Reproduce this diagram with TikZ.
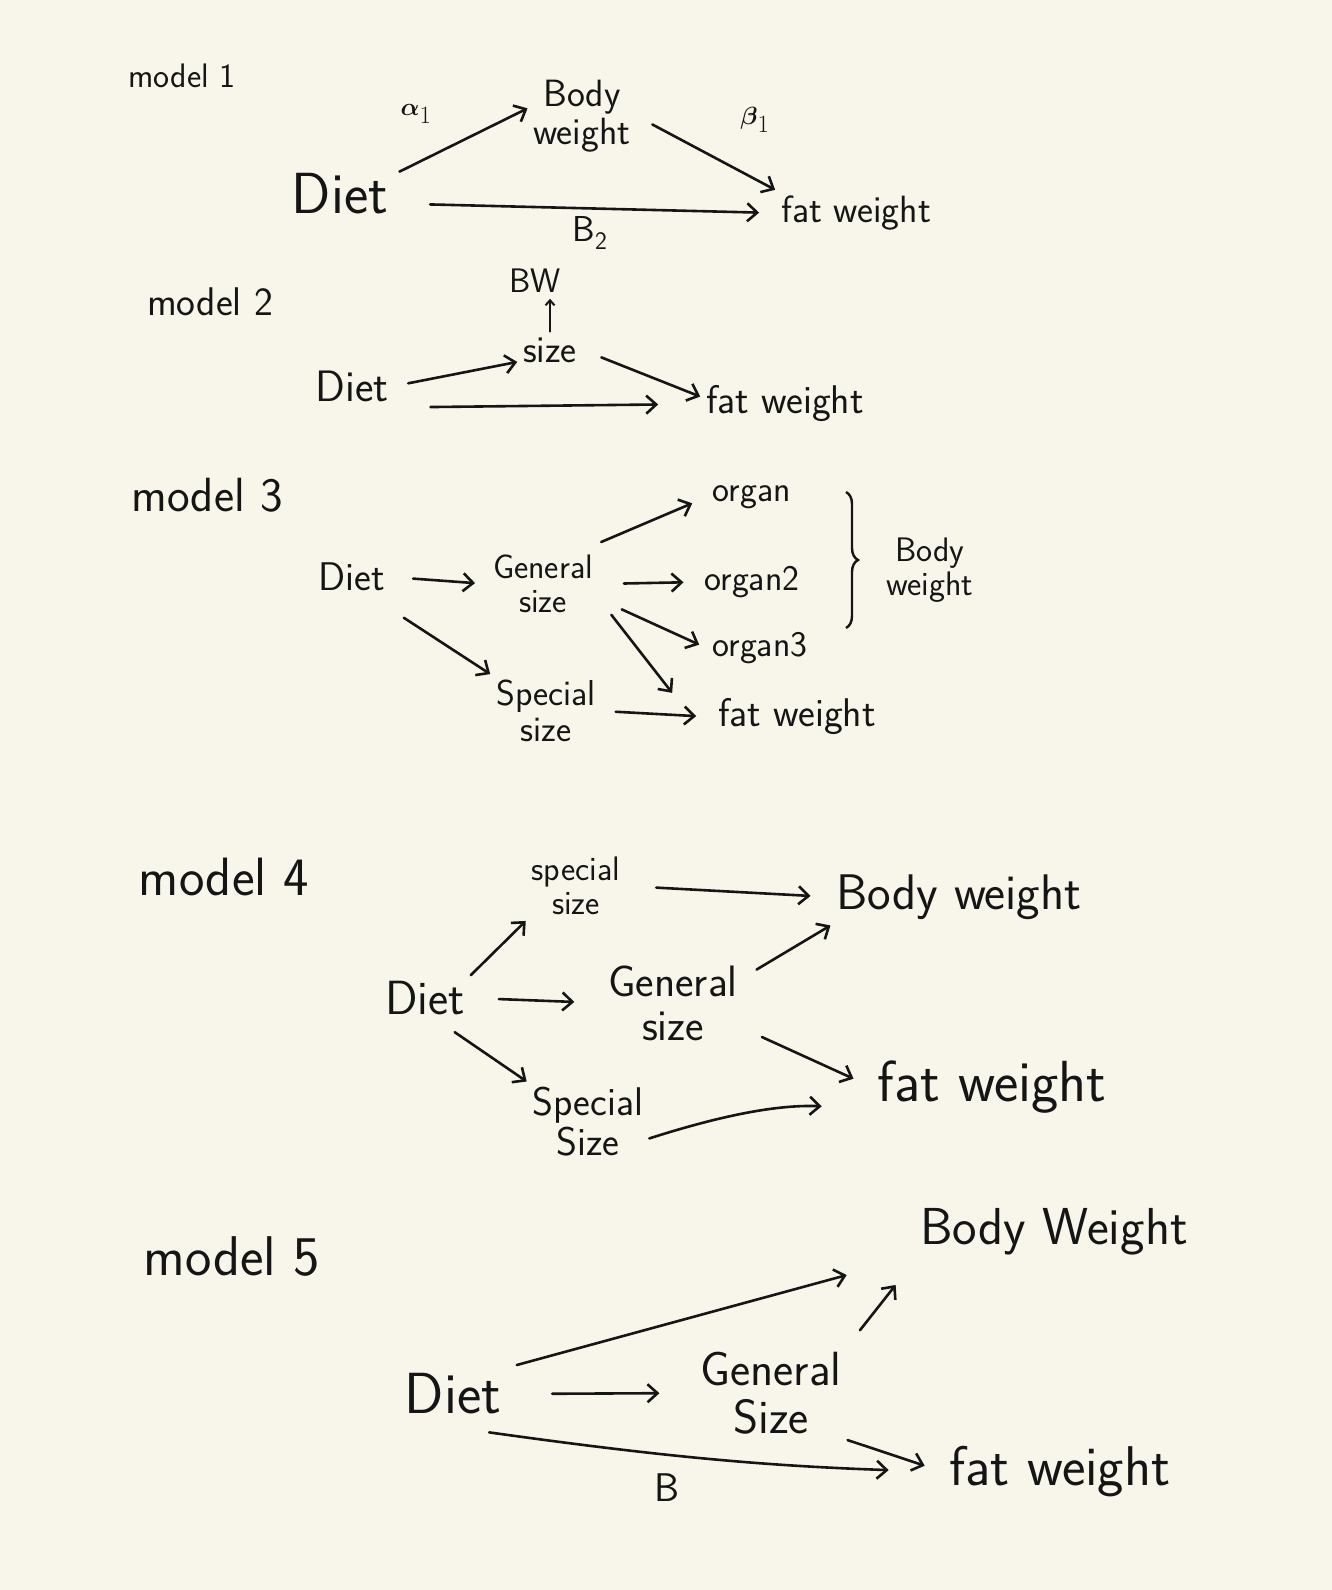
\documentclass[tikz,border=0pt]{standalone}
\usepackage{fontspec}
\usepackage{amsmath}
\usetikzlibrary{arrows.meta,decorations.pathreplacing}
\definecolor{paper}{HTML}{F8F6EB}
\definecolor{ink}{HTML}{151515}
\tikzset{
  txt/.style={font=\sffamily\fontsize{#1}{#1}\selectfont, text=ink, inner sep=2pt, outer sep=4pt, align=center},
  arr/.style={draw=ink, line width=2.6pt, line cap=round, -{Straight Barb[length=10pt,width=18pt]}},
  arrsmall/.style={draw=ink, line width=2pt, line cap=round, -{Straight Barb[length=5pt,width=9pt]}},
  brc/.style={draw=ink, line width=2.4pt, decorate, decoration={brace, amplitude=12pt}},
}
\begin{document}
\begin{tikzpicture}[x=1pt,y=-1pt]
    % Draw the paper
    \fill[paper] (0,0) rectangle (1332,1590);
    \useasboundingbox (0,0) rectangle (1332,1590);

    % Model 1
    \node[txt=34] (m1) at (182,76) {model 1};
    \node[txt=58] (d1) at (340,194) {Diet};
    \node[txt=38] (bw1) at (582,116) {Body\\weight};
    \node[txt=38] (fw1) at (856,213) {fat weight};
    \node[txt=36] (a1) at (416,114) {$\boldsymbol{\alpha}_1$};
    \node[txt=36] (b1) at (755,120) {$\boldsymbol{\beta}_1$};
    \node[txt=36] (b2) at (590,233) {B\textsubscript{2}};
    \draw[arr, shorten <=6pt] (d1.20) -- (bw1.172);
    \draw[arr, shorten <=18pt] (bw1.east) -- (fw1.north west);
    \draw[arr, shorten <=36pt, shorten >=16pt] (d1.-10) -- (fw1.west);

    % Model 2
    \node[txt=40] (m2) at (210,302) {model 2};
    \node[txt=44] (d2) at (352,386) {Diet};
    \node[txt=38] (s2) at (550,350) {size};
    \node[txt=34] (bw2) at (535,281) {BW};
    \node[txt=40] (fw2) at (785,404) {fat weight};
    \draw[arrsmall] (s2.north) -- (s2.north |- bw2.south);
    \draw[arr, shorten <=14pt] (d2.east) -- (s2.200);
    \draw[arr, shorten <=20pt] (s2.east) -- (fw2.175);
    \draw[arr, shorten <=36pt, shorten >=42pt] (d2.south east) -- (fw2.west);

    % Model 3
    \node[txt=48] (m3) at (207,495) {model 3};
    \node[txt=40] (d3) at (352,577) {Diet};
    \node[txt=34] (gs3) at (543,584) {General\\size};
    \node[txt=36] (o1) at (752,497) {organ};
    \node[txt=36] (o2) at (752,582) {organ2};
    \node[txt=36] (o3) at (760,648) {organ3};
    \node[txt=36] (ss3) at (546,711) {Special\\size};
    \node[txt=40] (fw3) at (797,717) {fat weight};
    \node[txt=34] (bw3) at (930,570) {Body\\weight};
    \coordinate (brtop) at (846,492);
    \coordinate (brbot) at (846,628);
    \draw[brc] (brtop) -- (brbot);
    \draw[arr, shorten <=22pt, shorten >=12pt] (d3.east) -- (gs3.west);
    \draw[arr, shorten <=18pt, shorten >=16pt] (gs3.40) -- (o1.west);
    \draw[arr, shorten <=25pt, shorten >=15pt] (gs3.east) -- (o2.west);
    \draw[arr, shorten <=25pt, shorten >=8pt] (gs3.-15) -- (o3.west);
    \draw[arr, shorten <=20pt] (gs3.-15) -- ([xshift=-40pt]fw3.north west);
    \draw[arr, shorten <=38pt] (d3.-45) -- (ss3.north west);
    \draw[arr, shorten <=14pt, shorten >=16pt] (ss3.east) -- (fw3.west);

    % Model 4
    \node[txt=54] (m4) at (224,877) {model 4};
    \node[txt=48] (d4) at (425,998) {Diet};
    \node[txt=34] (ss4a) at (576,886) {special\\size};
    \node[txt=50] (bw4) at (959,897) {Body weight};
    \node[txt=44] (gs4) at (673,1003) {General\\size};
    \node[txt=58] (fw4) at (992,1087) {fat weight};
    \node[txt=40] (ss4b) at (588,1122) {Special\\Size};
    \draw[arr] (d4.north east) -- (ss4a.south west);
    \draw[arr, shorten <=30pt, shorten >=20pt] (ss4a.east) -- (bw4.west);
    \draw[arr, shorten <=28pt, shorten >=28pt] (d4.east) -- (gs4.west);
    \draw[arr, shorten <=15pt] (gs4.20) -- (bw4.south west);
    \draw[arr, shorten <=20pt, shorten >=20pt] (gs4.-20) -- (fw4.west);
    \draw[arr, shorten <=20pt] (d4.-60) -- (ss4b.north west);
    \draw[arr, shorten >=50pt] (ss4b.-15) to[bend left=10] (fw4.190);

    % Model 5
    \node[txt=56] (m5) at (232,1256) {model 5};
    \node[txt=58] (d5) at (453,1394) {Diet};
    \node[txt=52] (bw5) at (1054,1232) {Body Weight};
    \node[txt=48] (gs5) at (771,1393) {General\\Size};
    \node[txt=56] (fw5) at (1060,1472) {fat weight};
    \node[txt=40] (b5) at (667,1488) {B};
    \draw[arr, shorten <=10pt, shorten >=70pt] (d5.north east) -- (bw5.190);
    \draw[arr, shorten <=20pt, shorten >=30pt] (gs5.north east) -- (bw5.south west);
    \draw[arr, shorten <=45pt, shorten >=35pt] (d5.east) -- (gs5.west);
    \draw[arr, shorten >=55pt] ([xshift=-18pt,yshift=-12pt]d5.south east) to[bend right=3] (fw5.west);
    \draw[arr, shorten >=20pt] (gs5.south east) -- (fw5.west);
\end{tikzpicture}
\end{document}
